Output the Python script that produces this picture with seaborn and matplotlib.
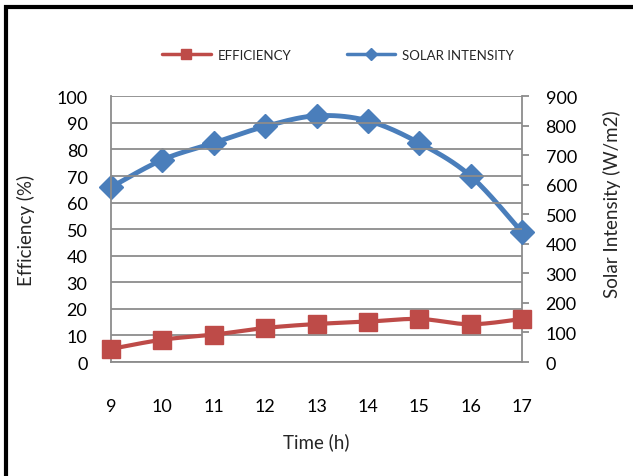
import numpy as np
import pandas as pd
import matplotlib
matplotlib.use("Agg")
import matplotlib.pyplot as plt
from matplotlib.lines import Line2D
from matplotlib.patches import Rectangle
import seaborn as sns

# ---- data ----
time_h = [9, 10, 11, 12, 13, 14, 15, 16, 17]
efficiency = [4.9, 8.4, 10.3, 12.8, 14.3, 15.2, 16.2, 14.2, 16.2]
solar_intensity = [592, 685, 742, 798, 834, 817, 742, 630, 440]
left_ticks = list(range(0, 101, 10))
right_ticks = list(range(0, 901, 100))

RED = "#BE4B48"
BLUE = "#4A7EBB"
GRID = "#8C8C8C"
FONT = "Lato"

sns.set_theme(style="white")
plt.rcParams["font.family"] = [FONT, "DejaVu Sans"]


def smooth(xv, yv, n=20):
    """Excel-like smoothed line (Catmull-Rom Bezier) through the data points."""
    x = np.asarray(xv, float)
    y = np.asarray(yv, float)
    P = np.column_stack([x, y])
    out = []
    for i in range(len(P) - 1):
        p0 = P[i - 1] if i > 0 else P[i]
        p1 = P[i]
        p2 = P[i + 1]
        p3 = P[i + 2] if i + 2 < len(P) else P[i + 1]
        c1 = p1 + (p2 - p0) / 6.0
        c2 = p2 - (p3 - p1) / 6.0
        t = np.linspace(0, 1, n, endpoint=(i == len(P) - 2))[:, None]
        seg = ((1 - t) ** 3) * p1 + 3 * ((1 - t) ** 2) * t * c1 + 3 * (1 - t) * t ** 2 * c2 + t ** 3 * p2
        out.append(seg)
    s = np.vstack(out)
    return s[:, 0], s[:, 1]


fig = plt.figure(figsize=(6.33, 4.77), dpi=100)
ax = fig.add_axes([111 / 633, 1 - 363 / 477, (522 - 111) / 633, (363 - 97.3) / 477])
ax2 = ax.twinx()

df = pd.DataFrame({"time": time_h, "eff": efficiency, "solar": solar_intensity})

# efficiency (left axis)
ex, ey = smooth(time_h, efficiency)
sns.lineplot(x=ex, y=ey, ax=ax, color=RED, linewidth=3, zorder=3)
ax.plot(df["time"], df["eff"], linestyle="none", marker="s", markersize=13.5,
        color=RED, markeredgecolor=RED, zorder=4, clip_on=False)

# solar intensity (right axis)
sx, sy = smooth(time_h, solar_intensity)
sns.lineplot(x=sx, y=sy, ax=ax2, color=BLUE, linewidth=3.5, zorder=3)
ax2.plot(df["time"], df["solar"], linestyle="none", marker="D", markersize=12,
         color=BLUE, markeredgecolor=BLUE, zorder=4, clip_on=False)

# axes formatting
ax.set_xlim(9, 17)
ax.set_ylim(0, 100)
ax2.set_ylim(0, 900)
ax.set_xticks(time_h)
ax.set_xticklabels([str(t) for t in time_h])
ax.set_yticks(left_ticks)
ax.set_yticklabels([str(v) for v in left_ticks])
ax2.set_yticks(right_ticks)
ax2.set_yticklabels([str(v) for v in right_ticks])

ax.grid(True, axis="y", color=GRID, linewidth=1.3)
ax.grid(False, axis="x")
ax2.grid(False)
ax.set_axisbelow(True)

for a in (ax, ax2):
    for sp in a.spines.values():
        sp.set_visible(False)
ax.spines["left"].set_visible(True)
ax.spines["left"].set_color(GRID)
ax.spines["left"].set_linewidth(1.3)
ax.spines["bottom"].set_visible(True)
ax.spines["bottom"].set_color(GRID)
ax.spines["bottom"].set_linewidth(1.3)
ax2.spines["right"].set_visible(True)
ax2.spines["right"].set_color(GRID)
ax2.spines["right"].set_linewidth(1.3)

ax.tick_params(axis="x", length=0, pad=26, labelsize=13, colors="black")
ax.tick_params(axis="y", length=0, pad=17, labelsize=13, colors="black")
ax2.tick_params(axis="y", right=True, direction="out", length=5, width=1.3, color=GRID,
                pad=12, labelsize=13, labelcolor="black")

ax.set_xlabel("")
ax.set_ylabel("")
ax2.set_ylabel("")
ax.set_zorder(ax2.get_zorder() + 1)
ax.patch.set_visible(False)

fig.text(316 / 633, 1 - 442 / 477, "Time (h)", ha="center", va="center", fontsize=13.5)
fig.text(26 / 633, 1 - 230 / 477, "Efficiency (%)", ha="center", va="center",
         rotation=90, fontsize=13.5)
fig.text(612 / 633, 1 - 204 / 477, "Solar Intensity (W/m2)", ha="center", va="center",
         rotation=90, fontsize=13.5)

# legend
handles = [
    Line2D([0], [0], color=RED, linewidth=2.5, marker="s", markersize=7.5),
    Line2D([0], [0], color=BLUE, linewidth=2.5, marker="D", markersize=6),
]
fig.legend(handles, ["EFFICIENCY", "SOLAR INTENSITY"], loc="center",
           bbox_to_anchor=(338 / 633, 1 - 56 / 477), ncol=2, frameon=False,
           fontsize=9.5, handlelength=3.7, columnspacing=4.2, handletextpad=0.5)

# outer frame (black border visible on top and left)
fig.patches.append(Rectangle((6 / 633, -0.1), 1.2, 1 - 7.5 / 477 + 0.1,
                             transform=fig.transFigure, fill=False,
                             edgecolor="black", linewidth=3))

fig.savefig("out.png", dpi=100)
